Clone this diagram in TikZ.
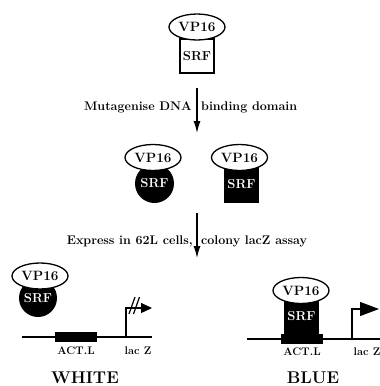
\documentclass[tikz,border=0pt]{standalone}
\usetikzlibrary{shapes.geometric,arrows.meta}
\begin{document}
\begin{tikzpicture}[x=1pt,y=-1pt,>={Latex[length=12pt,width=7pt]}]
        \tikzstyle{vp}=[ellipse,draw=black,line width=1.3pt,fill=white,minimum width=56pt,minimum height=26pt,inner sep=0pt,font=\fontsize{13.5}{13.5}\selectfont\bfseries]
        \tikzstyle{srfbox}=[rectangle,draw=black,line width=1.3pt,minimum size=34pt,inner sep=0pt,font=\fontsize{13}{13}\selectfont\bfseries]
        \tikzstyle{srfdot}=[circle,fill=black,text=white,minimum size=39pt,inner sep=0pt,font=\fontsize{13}{13}\selectfont\bfseries]
        \tikzstyle{steptext}=[inner sep=0pt,font=\fontsize{12.5}{12.5}\selectfont\bfseries]
        \tikzstyle{tag}=[inner sep=0pt,font=\fontsize{11}{11}\selectfont\bfseries]
        \tikzstyle{result}=[inner sep=0pt,font=\fontsize{17}{17}\selectfont\bfseries]
        \tikzstyle{gene}=[rectangle,fill=black,minimum width=42pt,minimum height=10pt,inner sep=0pt]
        \tikzstyle{dna}=[line width=1.5pt]
        \useasboundingbox (0,0) rectangle (380,386);
       \begin{scope}
         % wild type
         \node [srfbox] (srf0) at (197,56) {SRF};
         \node [vp] (vp0) at (197,27) {VP16};
         \coordinate (a1) at (197,88);
         \coordinate (b1) at (197,133);
         \draw [->,line width=1.2pt] (a1) -- (b1);
         \node [steptext,anchor=east] (mut1) at (192,107) {Mutagenise DNA};
         \node [steptext,anchor=west] (mut2) at (201,107) {binding domain};
        \end{scope}
       \begin{scope}
         % mutants
         \node [srfdot] (srf1) at (154.5,183.5) {SRF};
         \node [vp] (vp1) at (153,157.5) {VP16};
         \node [srfbox,fill=black,text=white,minimum width=33pt,minimum height=35pt] (srf2) at (241.5,184.5) {SRF};
         \node [vp] (vp2) at (239.5,157.5) {VP16};
         \coordinate (a2) at (197,213);
         \coordinate (b2) at (197,258);
         \draw [->,line width=1.2pt] (a2) -- (b2);
         \node [steptext,anchor=east] (exp1) at (193,241) {Express in 62L cells,};
         \node [steptext,anchor=west] (exp2) at (201,241) {colony lacZ assay};
        \end{scope}
       \begin{scope}
         % white colonies
         \coordinate (dl1) at (22,337);
         \coordinate (dl2) at (152,337);
         \draw [dna] (dl1) -- (dl2);
         \node [gene] (act1) at (76,336.5) {};
         \node [srfdot,minimum size=38pt] (srf3) at (38,298) {SRF};
         \node [vp] (vp3) at (40,276) {VP16};
         \coordinate (p1) at (126,337);
         \coordinate (q1) at (152,308);
         \draw [line width=1.2pt,-{Triangle[length=11pt,width=10pt]}] (p1) |- (q1);
         \draw [line width=1.2pt] (129,314) -- (135,297) (133.5,314) -- (139.5,297);
         \node [tag] (actl1) at (76,351) {ACT.L};
         \node [tag] (lacz1) at (138,351) {lac Z};
         \node [result] (white) at (85,378) {WHITE};
        \end{scope}
       \begin{scope}
         % blue colonies
         \coordinate (dl3) at (247,339);
         \coordinate (dl4) at (380,339);
         \draw [dna] (dl3) -- (dl4);
         \node [gene] (act2) at (302,338.5) {};
         \node [srfbox,fill=black,text=white,minimum width=33pt,minimum height=36pt] (srf4) at (301.5,316) {SRF};
         \node [vp] (vp4) at (301,290.5) {VP16};
         \coordinate (p2) at (352,339);
         \coordinate (q2) at (379,309);
         \draw [line width=1.2pt,-{Triangle[length=19pt,width=14pt]}] (p2) |- (q2);
         \node [tag] (actl2) at (302,352) {ACT.L};
         \node [tag] (lacz2) at (367,352) {lac Z};
         \node [result] (blue) at (313,378) {BLUE};
        \end{scope}
      \end{tikzpicture}
\end{document}
